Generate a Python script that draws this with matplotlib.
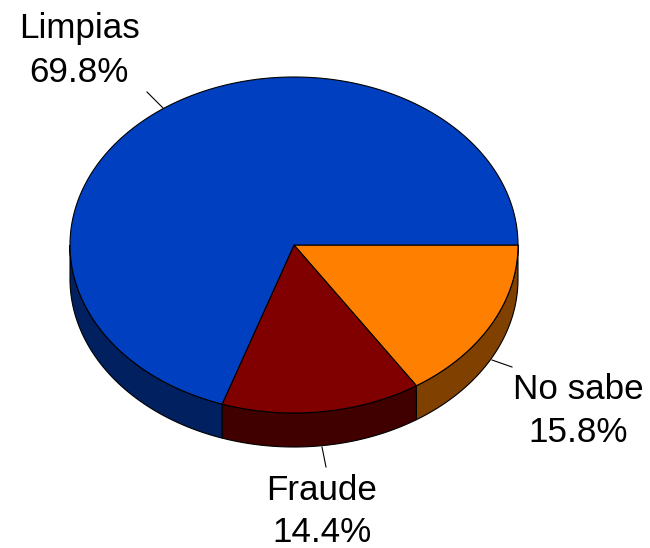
import numpy as np
import matplotlib
matplotlib.use("Agg")
import matplotlib.pyplot as plt
from matplotlib.patches import Polygon

labels = ["No sabe", "Fraude", "Limpias"]
values = [15.8, 14.4, 69.8]
top_colors = ["#FF8000", "#800000", "#0040C0"]
side_colors = ["#804000", "#400000", "#002060"]

# label layout (pixel coordinates, y down)
label_pos = [(578, 399, 442), (322, 500, 542), (79, 38, 82)]
leader_lines = [((492, 360), (512, 367)), ((322, 447), (326, 467)), ((147, 92), (163, 108))]

W, H = 650, 548
fig = plt.figure(figsize=(W / 100, H / 100), dpi=100)
ax = fig.add_axes([0, 0, 1, 1])
ax.set_xlim(0, W)
ax.set_ylim(H, 0)
ax.axis("off")

cx, cy, rx, ry, depth = 294, 245, 224, 168, 34
lw = 0.8

total = sum(values)
bounds = np.concatenate([[0], np.cumsum(values) / total * 360.0])

def pt(t_deg, dy=0.0):
    t = np.radians(t_deg)
    return cx + rx * np.cos(t), cy + ry * np.sin(t) + dy

# sides (front half: 0..180 deg, y-down clockwise)
for i in range(len(values)):
    a0, a1 = bounds[i], bounds[i + 1]
    s0, s1 = max(a0, 0), min(a1, 180)
    if s1 <= s0:
        continue
    ts = np.linspace(s0, s1, 200)
    topx, topy = pt(ts)
    botx, boty = pt(ts[::-1], depth)
    xs = np.concatenate([topx, botx])
    ys = np.concatenate([topy, boty])
    ax.add_patch(Polygon(np.column_stack([xs, ys]), closed=True,
                         facecolor=side_colors[i], edgecolor="black", lw=lw, zorder=1))

# tops
for i in range(len(values)):
    a0, a1 = bounds[i], bounds[i + 1]
    ts = np.linspace(a0, a1, 400)
    x, y = pt(ts)
    xs = np.concatenate([[cx], x])
    ys = np.concatenate([[cy], y])
    ax.add_patch(Polygon(np.column_stack([xs, ys]), closed=True,
                         facecolor=top_colors[i], edgecolor="black", lw=lw,
                         joinstyle="miter", zorder=2))

# leader lines and labels
font = ["Liberation Sans", "DejaVu Sans"]
fs = 25.2
for i in range(len(values)):
    (x0, y0), (x1, y1) = leader_lines[i]
    ax.plot([x0, x1], [y0, y1], color="black", lw=0.8, zorder=3)
    lx, b1, b2 = label_pos[i]
    ax.text(lx, b1, labels[i], ha="center", va="baseline", fontsize=fs, family=font, zorder=4)
    ax.text(lx, b2, f"{values[i]:.1f}%", ha="center", va="baseline", fontsize=fs, family=font, zorder=4)

fig.savefig("out.png", dpi=100)
